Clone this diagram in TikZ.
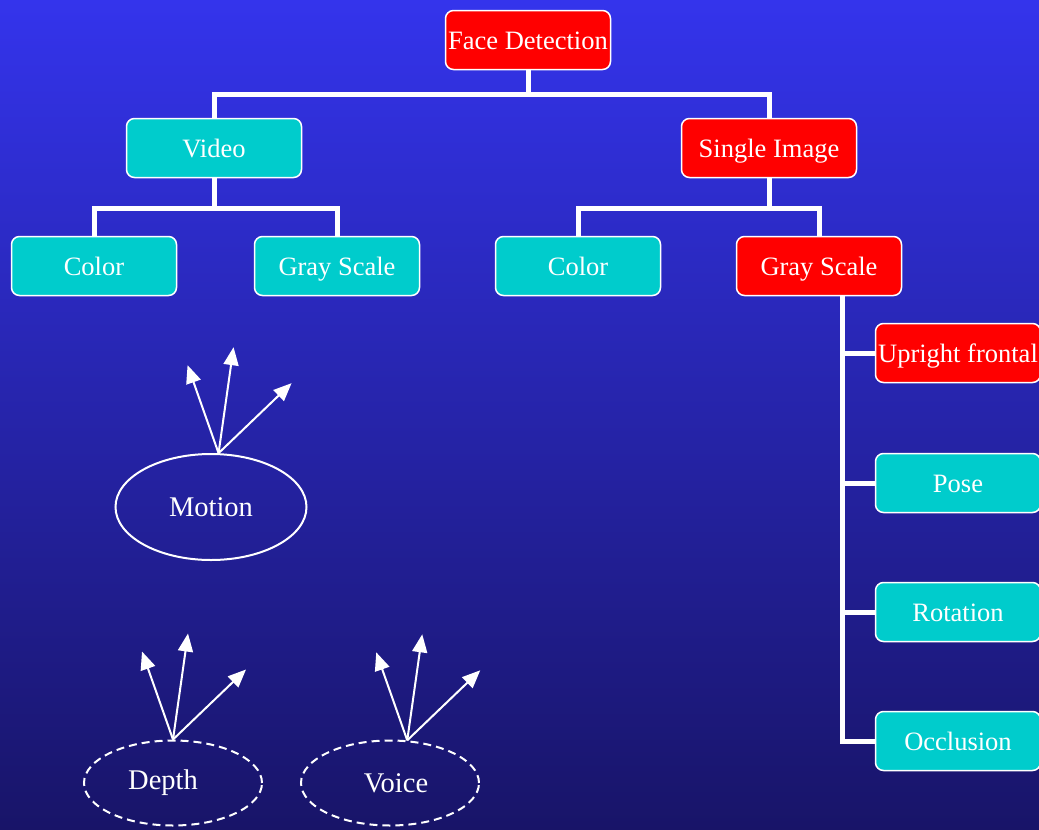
\documentclass[tikz,border=0pt]{standalone}
\usepackage{fontspec}
\setmainfont{Liberation Serif}
\usepackage{xcolor}
\definecolor{bgtop}{RGB}{52,52,236}
\definecolor{bgbottom}{RGB}{24,20,104}
\definecolor{boxred}{RGB}{255,0,0}
\definecolor{boxteal}{RGB}{0,204,204}
\usetikzlibrary{shapes.geometric}
\usetikzlibrary{arrows.meta}
\tikzset{
	box/.style={draw=white, line width=1.5pt, rounded corners=8pt, text=white,
		minimum width=165pt, minimum height=59pt, inner sep=2pt,
		text height=18pt, text depth=0pt,
		font=\fontsize{26.5}{30}\selectfont},
	redbox/.style={box, fill=boxred},
	tealbox/.style={box, fill=boxteal},
	link/.style={draw=white, line width=5pt},
	oval/.style={ellipse, draw=white, line width=2pt, text=white,
		font=\fontsize{28.5}{32}\selectfont},
	broken/.style={dashed, dash pattern=on 8pt off 5pt},
	ray/.style={draw=white, line width=2pt, -{Triangle[length=18pt,width=15pt]}}
}

\begin{document}
\begin{tikzpicture}[x=1pt, y=-1pt]
\useasboundingbox (0,0) rectangle (1039,830);
\fill[top color=bgtop, bottom color=bgbottom] (0,0) rectangle (1039,830);

% top level
\node[redbox] (face) at (528,40) {Face Detection};

% second level
\node[tealbox, minimum width=175pt] (video) at (214,148) {Video};
\node[redbox, minimum width=175pt] (single) at (769,148) {Single Image};

% third level
\node[tealbox] (vcolor) at (94,266) {Color};
\node[tealbox] (vgray) at (337,266) {Gray Scale};
\node[tealbox] (scolor) at (578,266) {Color};
\node[redbox] (sgray) at (819,266) {Gray Scale};

% gray scale cases
\node[redbox] (upright) at (958,353) {Upright frontal};
\node[tealbox] (pose) at (958,483) {Pose};
\node[tealbox] (rotation) at (958,612) {Rotation};
\node[tealbox] (occlusion) at (958,741) {Occlusion};

% tree links
\draw[link] (face.south) -- ++(0,24) -| (video.north);
\draw[link] (face.south) ++(0,24) -| (single.north);
\draw[link] (video.south) -- ++(0,30) -| (vcolor.north);
\draw[link] (video.south) ++(0,30) -| (vgray.north);
\draw[link] (single.south) -- ++(0,30) -| (scolor.north);
\draw[link] (single.south) ++(0,30) -| (sgray.north);

\coordinate (spine) at ([xshift=23pt]sgray.south);
\foreach \leaf in {upright,pose,rotation,occlusion}
	\draw[link] (spine) |- (\leaf.west);

% other cues
\node[oval, minimum width=191pt, minimum height=106pt] (motion) at (211,507) {Motion};
\node[oval, broken, minimum width=178pt, minimum height=85pt] (depth) at (173,783) {\hspace*{-20pt}Depth};
\node[oval, broken, minimum width=178pt, minimum height=85pt] (voice) at (390,783) {Voice\hspace*{-12pt}};

\foreach \from in {motion.82,depth.north,voice.68}
	\foreach \dx/\dy in {-31/-88,15/-106,73/-70}
		\draw[ray] (\from) -- ++(\dx,\dy);
\end{tikzpicture}
\end{document}
